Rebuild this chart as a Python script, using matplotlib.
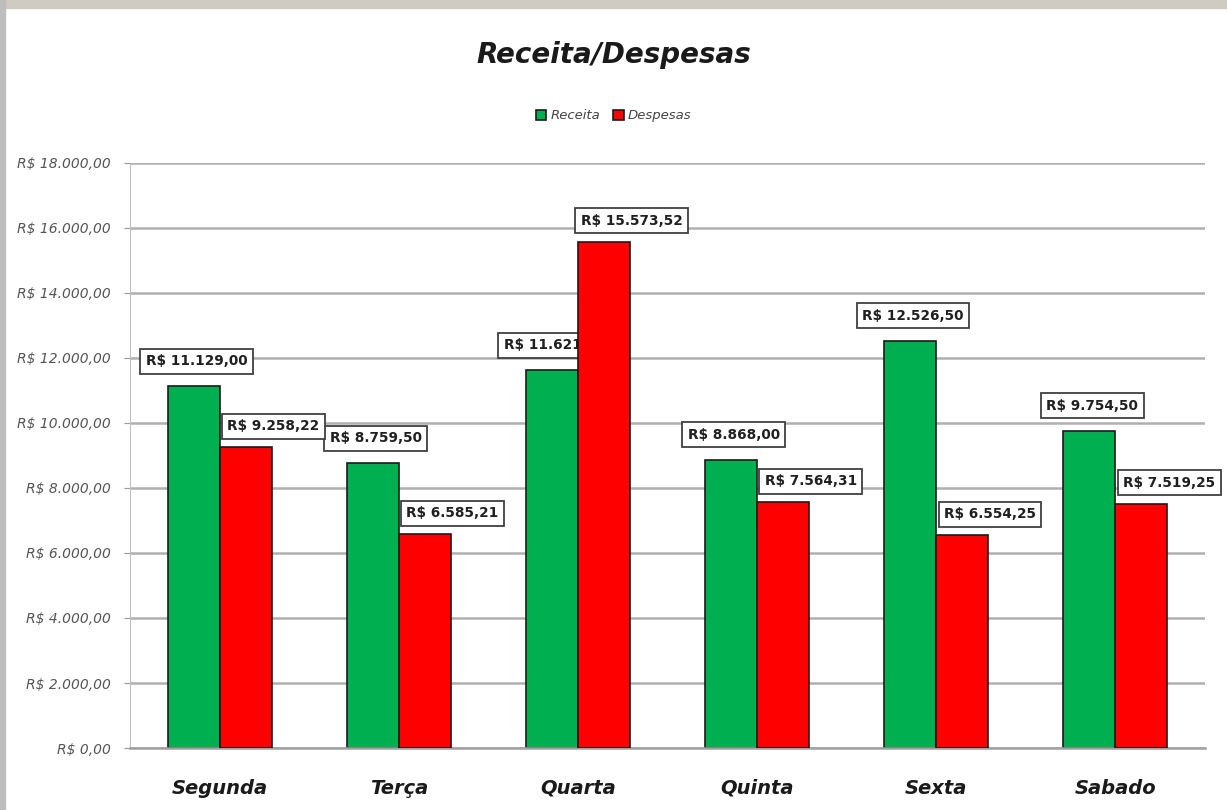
import numpy as np
import matplotlib
matplotlib.use('Agg')
import matplotlib.pyplot as plt
from matplotlib.ticker import FuncFormatter

dias = ['Segunda', 'Terça', 'Quarta', 'Quinta', 'Sexta', 'Sabado']
receita = [11129.00, 8759.50, 11621.00, 8868.00, 12526.50, 9754.50]
despesas = [9258.22, 6585.21, 15573.52, 7564.31, 6554.25, 7519.25]


def brl(v, pos=None):
    s = f'{v:,.2f}'.replace(',', 'X').replace('.', ',').replace('X', '.')
    return f'R$ {s}'


plt.rcParams['font.family'] = ['DejaVu Sans']

fig = plt.figure(figsize=(12.27, 8.10), dpi=100)
fig.patch.set_facecolor('white')
ax = fig.add_axes([0.106, 0.0765, 0.876, 0.7225])

x = np.arange(len(dias))
w = 0.29
verde = '#00B050'
vermelho = '#FF0000'

ax.bar(x - w / 2, receita, w, color=verde, edgecolor='#1a1a1a', linewidth=1.2,
       label='Receita', zorder=2)
ax.bar(x + w / 2, despesas, w, color=vermelho, edgecolor='#1a1a1a', linewidth=1.2,
       label='Despesas', zorder=4)

box = dict(boxstyle='square,pad=0.4', facecolor='white', edgecolor='#404040', linewidth=1.3)
for i, v in enumerate(receita):
    ax.annotate(brl(v), (x[i] - w / 2, v), xytext=(2, 18), textcoords='offset points',
                ha='center', va='center', fontsize=9.8, fontweight='bold',
                color='#202020', bbox=box, zorder=3)
for i, v in enumerate(despesas):
    ax.annotate(brl(v), (x[i] + w / 2, v), xytext=(20, 15), textcoords='offset points',
                ha='center', va='center', fontsize=9.8, fontweight='bold',
                color='#202020', bbox=box, zorder=5)

ax.set_ylim(0, 18000)
ax.set_yticks(np.arange(0, 18001, 2000))
ax.yaxis.set_major_formatter(FuncFormatter(brl))
ax.set_xlim(-0.5, len(dias) - 0.5)
ax.set_xticks(x)
ax.set_xticklabels(dias, fontsize=14, fontweight='bold', fontstyle='italic', color='#1a1a1a')
for lab in ax.get_yticklabels():
    lab.set_fontstyle('italic')
    lab.set_fontsize(10)
    lab.set_color('#555555')
ax.tick_params(axis='x', length=0, pad=22)
ax.tick_params(axis='y', length=4, color='#999999', pad=10)

ax.grid(axis='y', color='#b0b0b0', linewidth=1.8, zorder=0)
ax.set_axisbelow(True)
for side in ['top', 'right']:
    ax.spines[side].set_visible(False)
ax.spines['left'].set_color('#c0c0c0')
ax.spines['bottom'].set_color('#a0a0a0')
ax.spines['bottom'].set_linewidth(1.8)

fig.text(0.5, 0.932, 'Receita/Despesas', ha='center', va='center', fontsize=20,
         fontweight='bold', fontstyle='italic', color='#1a1a1a')
leg = fig.legend(loc='center', bbox_to_anchor=(0.5, 0.857), ncol=2, frameon=False,
                 fontsize=9.5, handlelength=0.8, handleheight=0.8, columnspacing=1.0,
                 handletextpad=0.3)
for t in leg.get_texts():
    t.set_fontstyle('italic')
    t.set_color('#444444')

# moldura cinza do slide
fig.add_artist(plt.Rectangle((0, 0.99), 1, 0.01, transform=fig.transFigure,
                             color='#cfcac2', zorder=10))
fig.add_artist(plt.Rectangle((0, 0), 0.004, 1, transform=fig.transFigure,
                             color='#bdbdbd', zorder=10))

fig.savefig('out.png', dpi=100)
